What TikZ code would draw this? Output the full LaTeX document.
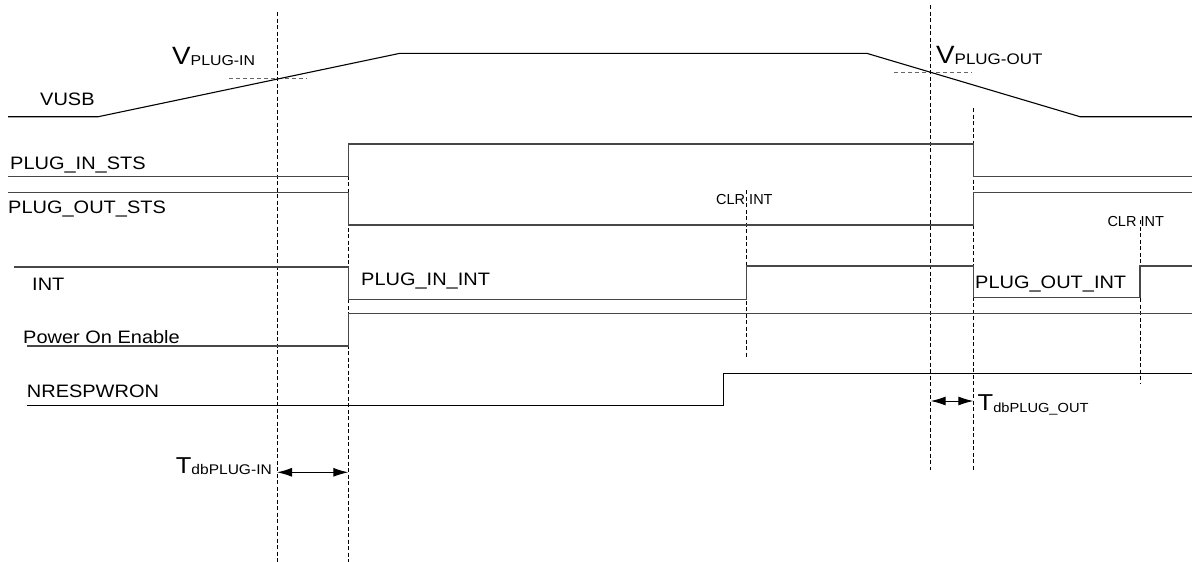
\documentclass[tikz,border=0pt]{standalone}
\usepackage{fontspec}
\usetikzlibrary{arrows.meta}
\newfontfamily\lab[FakeStretch=1.11]{Liberation Sans}
\newfontfamily\labp{Liberation Sans}
\begin{document}
\begin{tikzpicture}[x=1pt,y=-1pt,
  sig/.style={line width=1.1pt, draw=black!72},
  sigk/.style={line width=1.1pt, draw=black},
  guide/.style={dash pattern=on 4pt off 2.5pt, line width=0.9pt, draw=black},
  thr/.style={dash pattern=on 4pt off 3pt, line width=1pt, draw=black!60},
  lbl/.style={anchor=base west, inner sep=0pt, font=\lab\fontsize{18}{20}\selectfont},
  clr/.style={anchor=base west, inner sep=0pt, font=\labp\fontsize{14.5}{16}\selectfont},
  dim/.style={{Latex[length=15pt,width=9pt]}-{Latex[length=15pt,width=9pt]}, line width=1pt},
]
\useasboundingbox (0,0) rectangle (1192,562);

% dashed guide lines
\draw[guide] (277,12) -- (277,562);
\draw[guide] (348.3,143) -- (348.3,562);
\draw[guide] (930.7,5) -- (930.7,470);
\draw[guide] (973.3,108) -- (973.3,470);
\draw[guide] (746.7,190) -- (746.7,358);
\draw[guide] (1140,220) -- (1140,383);

% thresholds
\draw[thr] (229,78.7) -- (307,78.7);
\draw[thr] (894,72.3) -- (972,72.3);

% VUSB
\draw[sigk] (8,116.7) -- (98.3,116.7) -- (400,53.3) -- (866.7,53.3) -- (1080,116.7) -- (1192,116.7);
% PLUG_IN_STS
\draw[sig] (8,176.7) -- (348.3,176.7) -- (348.3,144) -- (973.3,144) -- (973.3,176.7) -- (1192,176.7);
% PLUG_OUT_STS
\draw[sig] (8,192.7) -- (348.3,192.7) -- (348.3,225) -- (973.3,225) -- (973.3,192.7) -- (1192,192.7);
% INT
\draw[sig] (14,267) -- (348.3,267) -- (348.3,299.3) -- (746.7,299.3) -- (746.7,266) -- (973.3,266) -- (973.3,297.3) -- (1140,297.3) -- (1140,266) -- (1192,266);
% Power On Enable
\draw[sig] (26.7,346) -- (348.3,346) -- (348.3,313.5) -- (1192,313.5);
% NRESPWRON
\draw[sigk] (26.7,405.5) -- (723.3,405.5) -- (723.3,373.3) -- (1192,373.3);

% signal labels
\node[lbl] (lvusb) at (40,105.7) {VUSB};
\node[lbl] (linsts) at (10,169.3) {PLUG\_IN\_STS};
\node[lbl] (loutsts) at (8,213.3) {PLUG\_OUT\_STS};
\node[lbl] (lint) at (32,290) {INT};
\node[lbl] (lpoe) at (23,343.3) {Power On Enable};
\node[lbl] (lnres) at (26.7,397.3) {NRESPWRON};
\node[lbl] (linint) at (361,285) {PLUG\_IN\_INT};
\node[lbl] (loutint) at (975,288.3) {PLUG\_OUT\_INT};
\node[clr] (clr1) at (716,204.3) {CLR INT};
\node[clr] (clr2) at (1107.3,226) {CLR INT};

% thresholds labels
\node[anchor=base west, inner sep=0pt] (vin) at (172,64)
  {{\lab\fontsize{25}{25}\selectfont V}\raisebox{-1pt}{\lab\fontsize{14.3}{15}\selectfont PLUG-IN}};
\node[anchor=base west, inner sep=0pt] (vout) at (936,63.3)
  {{\lab\fontsize{25}{25}\selectfont V}\raisebox{-1pt}{\lab\fontsize{15.3}{16}\selectfont PLUG-OUT}};

% debounce dimensions
\coordinate (a1) at (277,472.3);
\coordinate (a2) at (348.3,472.3);
\draw[dim] (a1) -- (a2);
\node[anchor=base east, inner sep=0pt] (tin) at (272,473.3)
  {{\lab\fontsize{23}{24}\selectfont T}\raisebox{-1.5pt}{\lab\fontsize{14}{15}\selectfont dbPLUG-IN}};
\coordinate (b1) at (930.7,401);
\coordinate (b2) at (973.3,401);
\draw[dim] (b1) -- (b2);
\node[anchor=base west, inner sep=0pt] (tout) at (977.5,410.7)
  {{\lab\fontsize{23}{24}\selectfont T}\raisebox{-1.5pt}{\lab\fontsize{13.2}{14}\selectfont dbPLUG\_OUT}};
\end{tikzpicture}
\end{document}
